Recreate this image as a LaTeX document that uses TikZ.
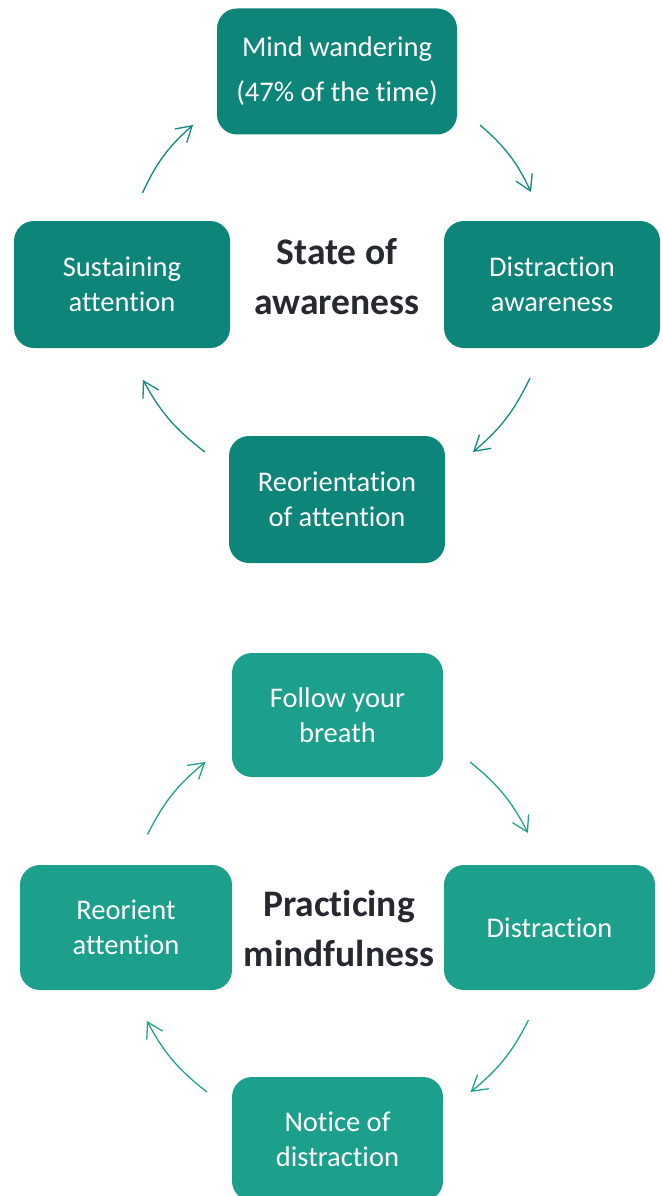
\documentclass[tikz,border=0pt]{standalone}
\usepackage{fontspec}
\setmainfont[Ligatures={NoCommon,NoContextual}]{Carlito}
\usetikzlibrary{arrows.meta}
\definecolor{topfill}{HTML}{0D8579}
\definecolor{botfill}{HTML}{1CA08C}
\definecolor{toparrow}{HTML}{128A7F}
\definecolor{botarrow}{HTML}{22A28E}
\definecolor{titlecol}{HTML}{262A30}
\tikzset{
  boxbase/.style={rounded corners=20pt, text=white, align=center,
    font=\fontsize{28.5}{35}\selectfont, inner sep=0pt},
  topbox/.style={boxbase, fill=topfill, minimum width=216pt, minimum height=127pt},
  botbox/.style={boxbase, fill=botfill, minimum width=211pt, minimum height=125pt},
  title/.style={align=center, text=titlecol, font=\fontsize{37.5}{50}\selectfont\bfseries, inner sep=0pt},
  cyc/.style={line width=1.3pt, -{Straight Barb[length=15pt,width=18pt,line width=1.3pt]}, bend left=12},
}
\begin{document}
\begin{tikzpicture}[x=1pt,y=1pt]
\useasboundingbox (0,0) rectangle (663,-1196);
% top cycle
\node[topbox, minimum width=240pt, minimum height=126pt] (mind) at (337,-71.5) {Mind wandering\\[10pt](47\% of the time)};
\node[topbox] (sust) at (122,-284.5) {Sustaining\\attention};
\node[topbox] (dawa) at (552,-284.5) {Distraction\\awareness};
\node[topbox] (reor) at (337,-499.5) {Reorientation\\of attention};
\node[title] (state) at (337,-277) {State of\\awareness};
\coordinate (a1s) at (142.5,-193);
\coordinate (a1e) at (193,-125);
\coordinate (a2s) at (480,-125);
\coordinate (a2e) at (531,-192);
\coordinate (a3s) at (530,-378);
\coordinate (a3e) at (473,-452);
\coordinate (a4s) at (205,-452);
\coordinate (a4e) at (143,-380);
\draw[cyc, toparrow] (a1s) to (a1e);
\draw[cyc, toparrow] (a2s) to (a2e);
\draw[cyc, toparrow] (a3s) to (a3e);
\draw[cyc, toparrow] (a4s) to (a4e);
% bottom cycle
\node[botbox, minimum height=124pt] (breath) at (337.5,-715) {Follow your\\breath};
\node[botbox, minimum width=212pt] (reat) at (126,-927.5) {Reorient\\attention};
\node[botbox] (distr) at (549.5,-927.5) {Distraction};
\node[botbox, minimum height=124pt] (notice) at (337.5,-1139) {Notice of\\distraction};
\node[title] (prac) at (339,-928) {Practicing\\mindfulness};
\coordinate (b1s) at (147.5,-834.5);
\coordinate (b1e) at (205.5,-762);
\coordinate (b2s) at (470,-762);
\coordinate (b2e) at (528,-833);
\coordinate (b3s) at (528.5,-1020);
\coordinate (b3e) at (470.5,-1092);
\coordinate (b4s) at (207,-1092);
\coordinate (b4e) at (147,-1021);
\draw[cyc, botarrow] (b1s) to (b1e);
\draw[cyc, botarrow] (b2s) to (b2e);
\draw[cyc, botarrow] (b3s) to (b3e);
\draw[cyc, botarrow] (b4s) to (b4e);
\end{tikzpicture}
\end{document}
